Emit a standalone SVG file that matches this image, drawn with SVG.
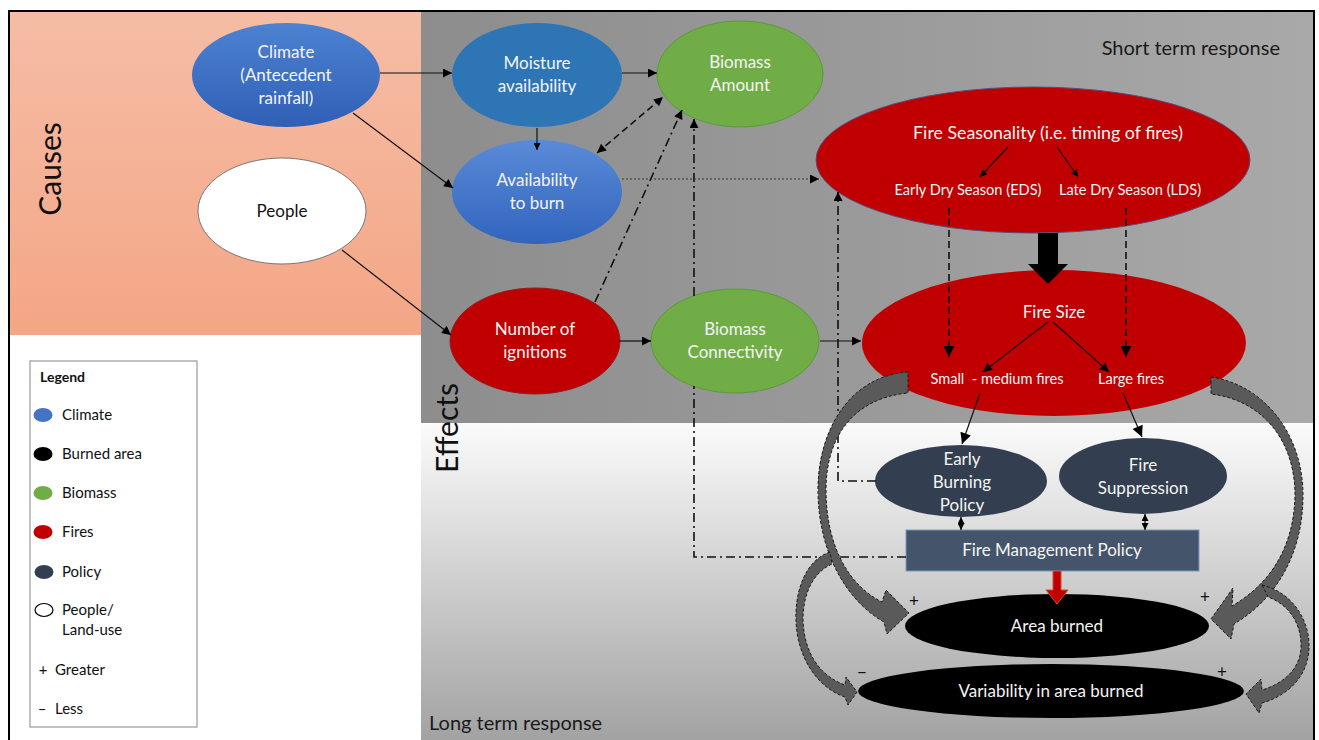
<svg xmlns="http://www.w3.org/2000/svg" width="1319" height="740" viewBox="0 0 1319 740">
<style>
text{font-family:Lato,"Open Sans","Liberation Sans",sans-serif;}
.nt{fill:#f4f4f4;font-size:17px;text-anchor:middle;}
.st{fill:#f4f4f4;font-size:14.6px;text-anchor:middle;}
.lg{fill:#111;font-size:15px;}
.c{fill:none;stroke:#111;stroke-width:1.2;}
.dd{fill:none;stroke:#111;stroke-width:1.6;stroke-dasharray:7,4;}
.dda{fill:none;stroke:#111;stroke-width:1.6;stroke-dasharray:9,4,2,4;}
.dot{fill:none;stroke:#333;stroke-width:1;stroke-dasharray:2,2;}
.ga{fill:#5a5a5a;stroke:#1a1a1a;stroke-width:1;stroke-dasharray:3,2;}
.red{fill:#c00000;stroke:#9a1a20;stroke-width:1;}
.grn{fill:#70ad47;stroke:#5b9a3a;stroke-width:1;}
.pol{fill:#333f50;}
.blk{fill:#000;}
.pm{fill:#111;font-size:17px;text-anchor:middle;}
</style>
<defs>
<linearGradient id="gCause" x1="0" y1="0" x2="0" y2="1"><stop offset="0" stop-color="#f5bda5"/><stop offset="1" stop-color="#f4a686"/></linearGradient>
<linearGradient id="gGray" x1="0" y1="0" x2="1" y2="0"><stop offset="0" stop-color="#8d8d8d"/><stop offset="0.5" stop-color="#9a9a9a"/><stop offset="1" stop-color="#a9a9a9"/></linearGradient>
<linearGradient id="gBot" x1="0" y1="0" x2="0" y2="1"><stop offset="0" stop-color="#fbfbfb"/><stop offset="1" stop-color="#a2a2a2"/></linearGradient>
<linearGradient id="gBlue1" x1="0" y1="0" x2="0" y2="1"><stop offset="0" stop-color="#4d82d2"/><stop offset="1" stop-color="#2f5fb6"/></linearGradient>
<linearGradient id="gBlue2" x1="0" y1="0" x2="0" y2="1"><stop offset="0" stop-color="#5a8bd8"/><stop offset="1" stop-color="#3164bd"/></linearGradient>
<marker id="ah" viewBox="0 0 10 10" refX="10" refY="5" markerWidth="11" markerHeight="9" markerUnits="userSpaceOnUse" orient="auto-start-reverse"><path d="M0,0 L10,5 L0,10 z" fill="#000"/></marker>
<marker id="ahs" viewBox="0 0 10 10" refX="10" refY="5" markerWidth="8" markerHeight="7" markerUnits="userSpaceOnUse" orient="auto-start-reverse"><path d="M0,0 L10,5 L0,10 z" fill="#000"/></marker>
<marker id="ahl" viewBox="0 0 10 10" refX="10" refY="5" markerWidth="13" markerHeight="11" markerUnits="userSpaceOnUse" orient="auto-start-reverse"><path d="M0,0 L10,5 L0,10 z" fill="#000"/></marker>
</defs>

<g id="background">
<rect x="0" y="0" width="1319" height="740" fill="#fff"/>
<rect x="9" y="11" width="412" height="324" fill="url(#gCause)"/>
<rect x="421" y="11" width="893" height="412" fill="url(#gGray)"/>
<rect x="421" y="423" width="893" height="317" fill="url(#gBot)"/>
<path d="M9,745 L9,11 L1314,11 L1314,745" fill="none" stroke="#000" stroke-width="2"/>
<text x="61" y="169" transform="rotate(-90 61 169)" font-size="30" text-anchor="middle" fill="#111">Causes</text>
<text x="458" y="428" transform="rotate(-90 458 428)" font-size="30" text-anchor="middle" fill="#111">Effects</text>
<text x="1280" y="55" font-size="20" text-anchor="end" fill="#1a1a1a">Short term response</text>
<text x="429" y="730" font-size="20" fill="#1a1a1a">Long term response</text>
</g>

<g id="climate"><ellipse cx="286" cy="75" rx="94" ry="52" fill="url(#gBlue1)"/>
<text class="nt" x="286" y="58">Climate</text><text class="nt" x="286" y="81">(Antecedent</text><text class="nt" x="286" y="104">rainfall)</text></g>
<g id="people"><ellipse cx="282" cy="211" rx="84" ry="53" fill="#fff" stroke="#777" stroke-width="1"/>
<text class="nt" x="282" y="217" style="fill:#111">People</text></g>
<g id="moisture"><ellipse cx="537" cy="75" rx="85" ry="52" fill="#2e75b6"/>
<text class="nt" x="537" y="69">Moisture</text><text class="nt" x="537" y="92">availability</text></g>
<g id="biomass-amount"><ellipse cx="740" cy="74" rx="83" ry="53" class="grn"/>
<text class="nt" x="740" y="68">Biomass</text><text class="nt" x="740" y="91">Amount</text></g>
<g id="availability"><ellipse cx="537" cy="192" rx="85" ry="52" fill="url(#gBlue2)"/>
<text class="nt" x="537" y="186">Availability</text><text class="nt" x="537" y="209">to burn</text></g>
<g id="ignitions"><ellipse cx="535" cy="341" rx="85" ry="53" class="red"/>
<text class="nt" x="535" y="335">Number of</text><text class="nt" x="535" y="358">ignitions</text></g>
<g id="connectivity"><ellipse cx="735" cy="341" rx="84" ry="52" class="grn"/>
<text class="nt" x="735" y="335">Biomass</text><text class="nt" x="735" y="358">Connectivity</text></g>
<g id="seasonality"><ellipse cx="1033" cy="160" rx="217" ry="73" fill="#c00000" stroke="#5a4a7a" stroke-width="1"/>
<text class="nt" x="1048" y="139" style="font-size:17.8px">Fire Seasonality (i.e. timing of fires)</text>
<text class="st" x="968" y="195">Early Dry Season (EDS)</text>
<text class="st" x="1130" y="195">Late Dry Season (LDS)</text></g>
<g id="fire-size"><ellipse cx="1054" cy="343" rx="192" ry="73" fill="#c00000"/>
<text class="nt" x="1054" y="318">Fire Size</text>
<text class="st" x="997" y="384">Small&#160; - medium fires</text>
<text class="st" x="1131" y="384">Large fires</text></g>
<g id="early-burning"><ellipse cx="961" cy="481" rx="86" ry="36" class="pol"/>
<text class="nt" x="962" y="465">Early</text><text class="nt" x="962" y="488">Burning</text><text class="nt" x="962" y="511">Policy</text></g>
<g id="fire-suppression"><ellipse cx="1143" cy="476" rx="84" ry="38" class="pol"/>
<text class="nt" x="1143" y="471">Fire</text><text class="nt" x="1143" y="494">Suppression</text></g>
<g id="fire-management"><rect x="906" y="530" width="293" height="41" fill="#44546a" stroke="#7a9cc6" stroke-width="1"/>
<text class="nt" x="1052" y="556">Fire Management Policy</text></g>
<g id="area-burned"><ellipse cx="1057" cy="626" rx="152" ry="32" class="blk"/>
<text class="nt" x="1057" y="632">Area burned</text></g>
<g id="variability"><ellipse cx="1051" cy="691" rx="193" ry="27" class="blk"/>
<text class="nt" x="1051" y="697">Variability in area burned</text></g>

<g id="connectors">
<path class="c" d="M380,73 L452,73" marker-end="url(#ah)"/>
<path class="c" d="M353,113 L453,188" marker-end="url(#ah)"/>
<path class="c" d="M342,250 L451,335" marker-end="url(#ah)"/>
<path class="c" d="M537,128 L537,150" marker-end="url(#ahs)"/>
<path class="c" d="M622,73 L657,73" marker-end="url(#ah)"/>
<path class="dd" d="M597,153 L663,97" marker-start="url(#ah)" marker-end="url(#ah)"/>
<path class="dda" d="M595,302 L682,110" marker-end="url(#ah)"/>
<path class="dda" d="M906,557 L694,557 L694,386 M694,296 L694,119" marker-end="url(#ah)"/>
<path class="dda" d="M876,481 L838,481 L838,192" marker-end="url(#ah)"/>
<path class="dot" d="M622,179 L819,179" marker-end="url(#ah)"/>
<path class="c" d="M619,341 L651,341" marker-end="url(#ah)"/>
<path class="c" d="M820,341 L861,341" marker-end="url(#ah)"/>
<polygon points="1038,233 1058,233 1058,264 1068,264 1048,284 1028,264 1038,264" fill="#000"/>
<path class="c" d="M1008,147 L980,177" marker-end="url(#ahs)"/>
<path class="c" d="M1057,147 L1078,177" marker-end="url(#ahs)"/>
<path class="dd" d="M949,208 L949,357" marker-end="url(#ahl)"/>
<path class="dd" d="M1126,208 L1126,357" marker-end="url(#ahl)"/>
<path class="c" d="M1048,322 L983,372" marker-end="url(#ah)"/>
<path class="c" d="M1053,322 L1109,372" marker-end="url(#ah)"/>
<path class="c" d="M980,393 L962,444" marker-end="url(#ahl)"/>
<path class="c" d="M1123,393 L1142,437" marker-end="url(#ahl)"/>
<path class="c" d="M961,517 L961,530" marker-start="url(#ahs)" marker-end="url(#ahs)"/>
<path class="c" d="M1145,514 L1145,530" marker-start="url(#ahs)" marker-end="url(#ahs)"/>
<polygon points="1053,571 1061,571 1061,590 1068,590 1057,604 1046,590 1053,590" fill="#c00000" stroke="#d2502a" stroke-width="1"/>
<path class="ga" d="M908,372 C850,376 818,430 818,490 C818,550 845,600 884,622 L887,634 L909,613 L886,590 L882,602 C848,585 826,545 826,490 C826,435 855,398 908,393 Z"/>
<path class="ga" d="M830,552 C806,560 795,590 796,620 C797,658 818,688 845,697 L848,705 L857,692 L846,677 L845,685 C822,677 804,655 803,620 C803,595 812,573 832,564 Z"/>
<path class="ga" d="M1211,377 C1265,385 1303,435 1303,495 C1303,555 1275,600 1234,624 L1231,639 L1211,619 L1233,588 L1232,606 C1268,585 1294,550 1295,495 C1295,440 1262,400 1211,394 Z"/>
<path class="ga" d="M1262,585 C1292,592 1310,620 1309,648 C1308,675 1290,695 1262,703 L1259,713 L1246,694 L1261,679 L1262,690 C1285,683 1300,668 1301,648 C1302,625 1290,605 1268,597 Z"/>
<text class="pm" x="914" y="607">+</text>
<text class="pm" x="1205" y="603">+</text>
<text class="pm" x="862" y="678">−</text>
<text class="pm" x="1222" y="678">+</text>
</g>

<g id="legend">
<rect x="30" y="361" width="167" height="366" fill="#fff" stroke="#999" stroke-width="1.2"/>
<text class="lg" x="40" y="382" font-weight="bold" style="font-size:14px">Legend</text>
<ellipse cx="43" cy="415" rx="9.5" ry="7" fill="#4472c4"/><text class="lg" x="62" y="420">Climate</text>
<ellipse cx="43" cy="454" rx="9.5" ry="7" fill="#000"/><text class="lg" x="62" y="459">Burned area</text>
<ellipse cx="43" cy="493" rx="9.5" ry="7" fill="#70ad47"/><text class="lg" x="62" y="498">Biomass</text>
<ellipse cx="43" cy="532" rx="9.5" ry="7" fill="#c00000"/><text class="lg" x="62" y="537">Fires</text>
<ellipse cx="44" cy="572" rx="9.5" ry="7" fill="#333f50"/><text class="lg" x="62" y="577">Policy</text>
<ellipse cx="44" cy="610" rx="9" ry="6.5" fill="#fff" stroke="#000" stroke-width="1.2"/><text class="lg" x="62" y="615">People/</text><text class="lg" x="62" y="635">Land-use</text>
<text class="lg" x="43" y="675" text-anchor="middle">+</text><text class="lg" x="55" y="675">Greater</text>
<text class="lg" x="42" y="714" text-anchor="middle">–</text><text class="lg" x="55" y="714">Less</text>
</g>
</svg>
